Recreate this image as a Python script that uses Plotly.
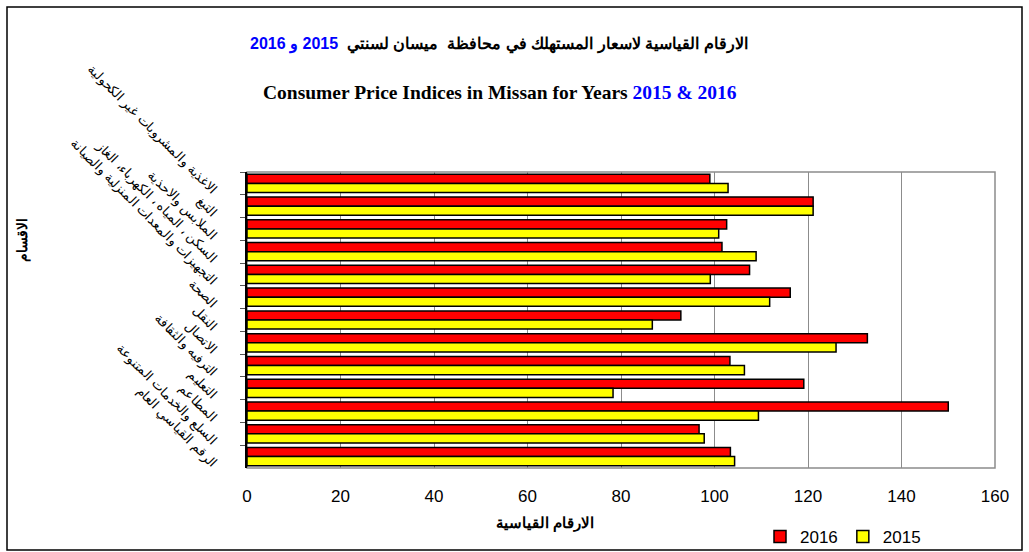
import plotly.graph_objects as go

categories = [
    "الاغذية والمشروبات غير الكحولية",
    "التبغ",
    "الملابس والاحذية",
    "السكن ، المياه ، الكهرباء، الغاز",
    "التجهيزات والمعدات المنزلية والصيانة",
    "الصحة",
    "النقل",
    "الاتصال",
    "الترفيه والثقافة",
    "التعليم",
    "المطاعم",
    "السلع والخدمات المتنوعة",
    "الرقم القياسي العام",
]
values_2016 = [99.0, 121.1, 102.6, 101.6, 107.5, 116.2, 92.8, 132.7, 103.3, 119.1, 150.0, 96.7, 103.4]
values_2015 = [102.9, 121.1, 100.9, 108.9, 99.1, 111.8, 86.7, 126.0, 106.4, 78.3, 109.4, 97.8, 104.3]
x_ticks = [0, 20, 40, 60, 80, 100, 120, 140, 160]

W, H = 1029, 552
L, R, T, B = 247, 995, 172, 468
NARROW = "Liberation Sans Narrow, Arial Narrow, Liberation Sans, Arial"

def px(x):
    return (x - L) / (R - L)

def py(y):
    return (B - y) / (B - T)

fig = go.Figure()
fig.add_trace(go.Bar(
    y=categories, x=values_2016, orientation="h", name="2016",
    marker=dict(color="#FF0000", line=dict(color="black", width=1.5)),
))
fig.add_trace(go.Bar(
    y=categories, x=values_2015, orientation="h", name="2015",
    marker=dict(color="#FFFF00", line=dict(color="black", width=1.5)),
))

fig.update_layout(
    template="none",
    width=W, height=H,
    margin=dict(l=L, r=W - R, t=T, b=H - B, pad=0, autoexpand=False),
    paper_bgcolor="white", plot_bgcolor="white",
    barmode="group", bargap=0.2, bargroupgap=0.0,
    font=dict(family="Liberation Sans, Arial", size=12, color="black"),
    showlegend=True,
    legend=dict(orientation="h", x=px(760), y=py(537), xanchor="left", yanchor="middle",
                font=dict(size=17, family=NARROW), bgcolor="rgba(0,0,0,0)",
                itemwidth=30, traceorder="normal"),
    xaxis=dict(range=[0, 160], tickvals=x_ticks, showgrid=True, gridcolor="#8c8c8c", gridwidth=1,
               zeroline=False, showline=False, ticks="", tickfont=dict(size=17, family=NARROW),
               ticklabelstandoff=16, automargin=False),
    yaxis=dict(autorange="reversed", showline=True, linecolor="black", linewidth=1.5,
               ticks="outside", ticklen=5, tickcolor="#555", tickson="boundaries",
               tickangle=45, tickfont=dict(size=13), ticklabelstandoff=26, ticklabelshift=-9,
               showgrid=False, zeroline=False, automargin=False),
    shapes=[
        dict(type="rect", xref="paper", yref="paper", x0=0, x1=1, y0=0, y1=1,
             line=dict(color="#8c8c8c", width=1.5), fillcolor="rgba(0,0,0,0)", layer="below"),
        dict(type="rect", xref="paper", yref="paper", x0=px(7), x1=px(1022), y0=py(550), y1=py(7),
             line=dict(color="black", width=1.5), fillcolor="rgba(0,0,0,0)"),
    ],
    annotations=[
        dict(xref="paper", yref="paper", x=px(499), y=py(44), xanchor="center", yanchor="middle",
             showarrow=False, font=dict(size=16, family="Liberation Sans, Arial"),
             text="<b>الارقام القياسية لاسعار المستهلك في محافظة  ميسان لسنتي  <span style='color:#0000FF'>2015 و 2016</span></b>"),
        dict(xref="paper", yref="paper", x=px(500), y=py(92), xanchor="center", yanchor="middle",
             showarrow=False, font=dict(size=19.5, family="Liberation Serif, Times New Roman"),
             text="<b>Consumer Price Indices in Missan for Years <span style='color:#0000FF'>2015 &amp; 2016</span></b>"),
        dict(xref="paper", yref="paper", x=px(545), y=py(523), xanchor="center", yanchor="middle",
             showarrow=False, font=dict(size=15, family="Liberation Sans, Arial"),
             text="<b>الارقام القياسية</b>"),
        dict(xref="paper", yref="paper", x=px(22), y=py(240), xanchor="center", yanchor="middle",
             showarrow=False, textangle=-90, font=dict(size=14, family="Liberation Sans, Arial"),
             text="<b>الاقسام</b>"),
    ],
)

fig.write_html("out.html", config={"displayModeBar": False},
               post_script="document.body.style.margin='0';document.body.style.overflow='hidden';")
